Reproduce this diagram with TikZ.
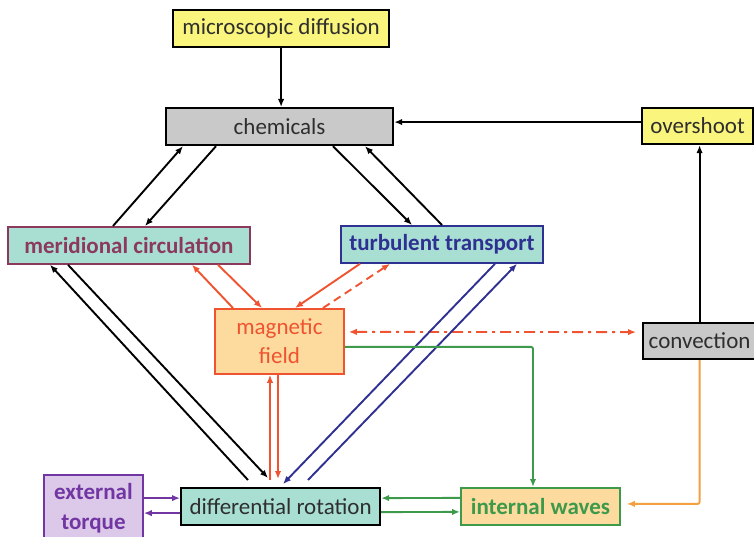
\documentclass[tikz,border=0pt]{standalone}
\usepackage{fontspec}
\setmainfont{Carlito}
\usetikzlibrary{arrows.meta}
\definecolor{cyel}{HTML}{FAF57C}
\definecolor{cgray}{HTML}{C9C9C9}
\definecolor{cteal}{HTML}{A9DFD3}
\definecolor{cmaroon}{HTML}{8B3A5E}
\definecolor{cblue}{HTML}{2E3192}
\definecolor{cred}{HTML}{EF5330}
\definecolor{corgfill}{HTML}{FDDA9E}
\definecolor{cgreen}{HTML}{3D9A4B}
\definecolor{corange}{HTML}{F4A041}
\definecolor{cpurple}{HTML}{7236A3}
\definecolor{clav}{HTML}{DCC9E9}
\definecolor{ctext}{HTML}{2E2E2E}
\tikzset{
  box/.style={draw, line width=2.2pt, inner sep=0pt, anchor=north west, align=center,
    font=\fontsize{23}{29}\selectfont, text=ctext},
  arr/.style={-{Latex[length=8pt,width=6.5pt]}, line width=1.9pt},
  biarr/.style={{Latex[length=8pt,width=6.5pt]}-{Latex[length=8pt,width=6.5pt]}, line width=1.9pt},
}
\begin{document}
\begin{tikzpicture}[x=1pt,y=-1pt]
\useasboundingbox (0,0) rectangle (754,537);
% nodes
\node[box, fill=cyel, minimum width=216pt, minimum height=37pt] (md) at (172,9) {microscopic diffusion};
\node[box, fill=cgray, minimum width=227pt, minimum height=37pt] (chem) at (165,107) {chemicals};
\node[box, fill=cyel, minimum width=111pt, minimum height=36pt] (over) at (641,107) {overshoot};
\node[box, fill=cteal, draw=cmaroon, text=cmaroon, line width=1.8pt, font=\fontsize{23}{29}\selectfont\bfseries,
  minimum width=242pt, minimum height=37pt] (mer) at (7,226) {meridional circulation};
\node[box, fill=cteal, draw=cblue, text=cblue, line width=1.8pt, font=\fontsize{23}{29}\selectfont\bfseries,
  minimum width=202pt, minimum height=37pt] (turb) at (340,225) {turbulent transport};
\node[box, fill=corgfill, draw=cred, text=cred, line width=1.8pt, minimum width=129pt, minimum height=65pt] (mag) at (214,308) {magnetic\\field};
\node[box, fill=cgray, minimum width=113pt, minimum height=36pt] (conv) at (642,322) {convection};
\node[box, fill=clav, draw=cpurple, text=cpurple, line width=1.8pt, font=\fontsize{23}{30}\selectfont\bfseries,
  minimum width=99pt, minimum height=66pt] (ext) at (43,474) {external\\torque};
\node[box, fill=cteal, minimum width=199pt, minimum height=37pt] (diff) at (180,487) {differential rotation};
\node[box, fill=corgfill, draw=cgreen, text=cgreen, line width=1.8pt, font=\fontsize{23}{29}\selectfont\bfseries,
  minimum width=159pt, minimum height=37pt] (iw) at (460,487) {internal waves};
% black connectors
\draw[arr] (md.south) -- (md.south |- chem.north);
\draw[arr] ([yshift=4pt]over.west) -- ([yshift=4pt]over.west -| chem.east);
\draw[arr] (conv.north) -- (conv.north |- over.south);
\draw[arr] ([xshift=106pt]mer.north west) -- ([xshift=18pt]chem.south west);
\draw[arr] ([xshift=51pt]chem.south west) -- ([xshift=138pt]mer.north west);
\draw[arr] ([xshift=168pt]chem.south west) -- ([xshift=72pt]turb.north west);
\draw[arr] ([xshift=102pt]turb.north west) -- ([xshift=200pt]chem.south west);
\draw[arr] ([xshift=68pt,yshift=7pt]diff.north west) -- ([xshift=43pt]mer.south west);
\draw[arr] ([xshift=61pt]mer.south west) -- ([xshift=88pt,yshift=9pt]diff.north west);
% red connectors
\draw[arr, cred] ([xshift=19pt]mag.north west) -- ([xshift=185pt]mer.south west);
\draw[arr, cred] ([xshift=211pt]mer.south west) -- ([xshift=48pt]mag.north west);
\draw[arr, cred] ([xshift=20pt]turb.south west) -- ([xshift=81pt]mag.north west);
\draw[arr, cred, dash pattern=on 8pt off 5pt] ([xshift=109pt]mag.north west) -- ([xshift=50pt]turb.south west);
\draw[arr, cred] ([xshift=90pt,yshift=7pt]diff.north west) -- ([xshift=56pt]mag.south west);
\draw[arr, cred] ([xshift=64pt]mag.south west) -- ([xshift=98pt,yshift=8pt]diff.north west);
\draw[biarr, cred, dash pattern=on 11pt off 5pt on 3pt off 5pt] ([xshift=4pt,yshift=9.5pt]mag.east) -- ([xshift=-6pt,yshift=9pt]conv.west);
% blue connectors
\draw[arr, cblue] ([xshift=155pt]turb.south west) -- ([xshift=103pt,yshift=3pt]diff.north west);
\draw[arr, cblue] ([xshift=128pt,yshift=7pt]diff.north west) -- ([xshift=177pt]turb.south west);
% green connectors
\draw[arr, cgreen, rounded corners=2pt] ([yshift=-5.5pt]mag.east) -| ([xshift=73pt]iw.north west);
\draw[arr, cgreen] ([yshift=8.5pt]iw.west) -- ([yshift=8.5pt]diff.east);
\draw[arr, cgreen] ([yshift=-5.5pt]diff.east) -- ([yshift=-5.5pt]iw.west);
% orange connector
\draw[arr, corange, rounded corners=2pt] (conv.south) |- ([xshift=6pt,yshift=2.5pt]iw.east);
% purple connectors
\coordinate (p1) at ([yshift=8.5pt]diff.west);
\coordinate (p2) at ([yshift=-6.5pt]diff.west);
\draw[arr, cpurple] (p1 -| ext.east) -- (p1);
\draw[arr, cpurple] (p2) -- (p2 -| ext.east);
\end{tikzpicture}
\end{document}
